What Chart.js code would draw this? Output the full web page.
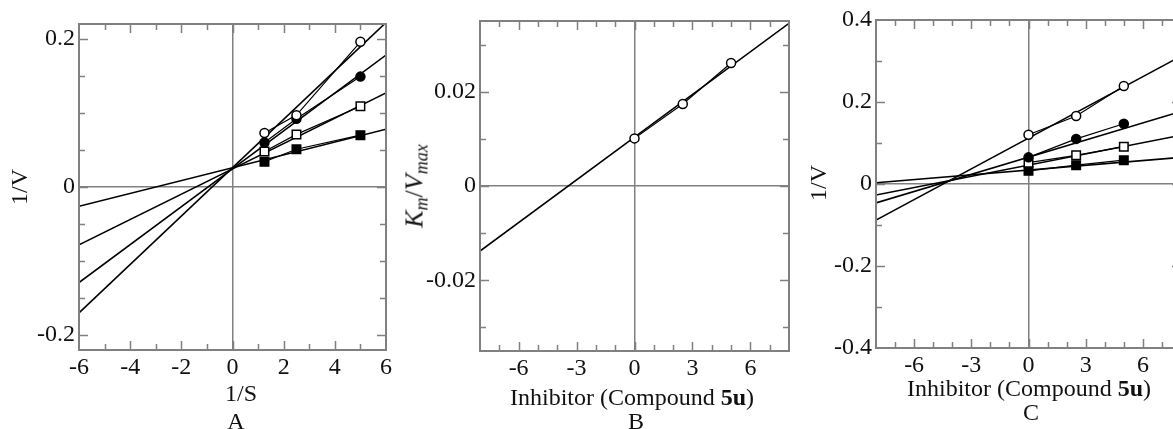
<!DOCTYPE html>
<html lang="en">
<head>
  <meta charset="UTF-8">
  <title>Lineweaver-Burk and secondary plots</title>
  <script src="https://cdn.jsdelivr.net/npm/chart.js"></script>
  <style>
    * { margin: 0; padding: 0; }
    html, body { width: 1173px; height: 429px; overflow: hidden; background: #fff; }
    body { position: relative; font-family: "Liberation Serif", "Times New Roman", serif; color: #111; }
    .panel { position: absolute; top: 0; height: 429px; }
    .lbl { position: absolute; font-size: 24px; line-height: 1; white-space: nowrap; transform: translate(-50%, -50%); }
    .rot { transform: translate(-50%, -50%) rotate(-90deg); }
    .big { font-size: 26px; }
    sub { font-size: 18px; vertical-align: -5px; }
  </style>
</head>
<body>
  <div class="panel" style="left:0;width:400px"><canvas id="chartA"></canvas></div>
  <div class="panel" style="left:400px;width:400px"><canvas id="chartB"></canvas></div>
  <div class="panel" style="left:780px;width:420px"><canvas id="chartC"></canvas></div>

  <div class="lbl rot" style="left:19px;top:187px">1/V</div>
  <div class="lbl" style="left:241px;top:393px">1/S</div>
  <div class="lbl" style="left:236px;top:421px">A</div>

  <div class="lbl rot big" style="left:416px;top:186px"><i>K<sub>m</sub></i>/<i>V<sub>max</sub></i></div>
  <div class="lbl" style="left:632px;top:397px">Inhibitor (Compound <b>5u</b>)</div>
  <div class="lbl" style="left:636px;top:421px">B</div>

  <div class="lbl rot" style="left:818px;top:183px">1/V</div>
  <div class="lbl" style="left:1029px;top:388px">Inhibitor (Compound <b>5u</b>)</div>
  <div class="lbl" style="left:1031px;top:412px">C</div>

  <script>
    // Panel A: 1/V vs 1/S
    var xA = [1.25, 2.5, 5];
    var aOpenCircle = [0.073, 0.097, 0.196];
    var aFilledCircle = [0.060, 0.092, 0.149];
    var aOpenSquare = [0.048, 0.071, 0.109];
    var aFilledSquare = [0.034, 0.051, 0.070];
    var aFitX = [-6, 6];
    var aFitOpenCircle = [-0.170, 0.222];
    var aFitFilledCircle = [-0.129, 0.178];
    var aFitOpenSquare = [-0.078, 0.127];
    var aFitFilledSquare = [-0.026, 0.078];
    var aXTicks = [-6, -5, -4, -3, -2, -1, 0, 1, 2, 3, 4, 5, 6];
    var aXLabels = [-6, -4, -2, 0, 2, 4, 6];
    var aYTicks = [-0.2, -0.15, -0.1, -0.05, 0, 0.05, 0.1, 0.15, 0.2];
    var aYLabels = [-0.2, 0, 0.2];

    // Panel B: Km/Vmax vs inhibitor
    var xB = [0, 2.5, 5];
    var bSlope = [0.0101, 0.0174, 0.0261];
    var bFitX = [-8, 8];
    var bFit = [-0.0138, 0.0345];
    var bXTicks = [-7, -6, -5, -4, -3, -2, -1, 0, 1, 2, 3, 4, 5, 6, 7];
    var bXLabels = [-6, -3, 0, 3, 6];
    var bYTicks = [-0.03, -0.02, -0.01, 0, 0.01, 0.02, 0.03];
    var bYLabels = [-0.02, 0, 0.02];

    // Panel C: 1/V vs inhibitor
    var xC = [0, 2.5, 5];
    var cOpenCircle = [0.120, 0.166, 0.239];
    var cFilledCircle = [0.065, 0.110, 0.147];
    var cOpenSquare = [0.052, 0.070, 0.091];
    var cFilledSquare = [0.032, 0.046, 0.058];
    var cFitX = [-8, 8];
    var cFitOpenCircle = [-0.088, 0.312];
    var cFitFilledCircle = [-0.046, 0.177];
    var cFitOpenSquare = [-0.027, 0.119];
    var cFitFilledSquare = [0.003, 0.065];
    var cXTicks = [-7, -6, -5, -4, -3, -2, -1, 0, 1, 2, 3, 4, 5, 6, 7];
    var cXLabels = [-6, -3, 0, 3, 6];
    var cYTicks = [-0.3, -0.2, -0.1, 0, 0.1, 0.2, 0.3];
    var cYLabels = [-0.4, -0.2, 0, 0.2, 0.4];

    var GRAY = '#808080';
    var tickFont = { family: '"Liberation Serif", "Times New Roman", serif', size: 24 };

    function inList(v, list) {
      return list.some(function(l) { return Math.abs(l - v) < 1e-9; });
    }

    // frame round the plot area with inward ticks on all four sides
    var frameTicks = {
      id: 'frameTicks',
      afterDatasetsDraw: function(chart) {
        var ctx = chart.ctx, a = chart.chartArea;
        var x = chart.scales.x, y = chart.scales.y;
        var o = chart.options.plugins.frameTicks;
        ctx.save();
        ctx.strokeStyle = GRAY;
        ctx.lineWidth = 1.5;
        ctx.beginPath();
        x.ticks.forEach(function(t) {
          if (t.value <= x.min || t.value >= x.max) return;
          var px = Math.round(x.getPixelForValue(t.value)) + 0.5;
          var len = inList(t.value, o.xLabels) ? 9 : 6;
          ctx.moveTo(px, a.bottom); ctx.lineTo(px, a.bottom - len);
          ctx.moveTo(px, a.top); ctx.lineTo(px, a.top + len);
        });
        y.ticks.forEach(function(t) {
          if (t.value <= y.min || t.value >= y.max) return;
          var py = Math.round(y.getPixelForValue(t.value)) + 0.5;
          var len = inList(t.value, o.yLabels) ? 9 : 6;
          ctx.moveTo(a.left, py); ctx.lineTo(a.left + len, py);
          ctx.moveTo(a.right, py); ctx.lineTo(a.right - len, py);
        });
        ctx.stroke();
        ctx.lineWidth = 2;
        ctx.strokeRect(a.left, a.top, a.right - a.left, a.bottom - a.top);
        ctx.restore();
      }
    };

    function pts(xs, ys) {
      return xs.map(function(x, i) { return { x: x, y: ys[i] }; });
    }

    function pointSet(xs, ys, style, filled) {
      return {
        data: pts(xs, ys),
        showLine: true,
        borderColor: '#000',
        borderWidth: 1.2,
        pointStyle: style,
        pointRadius: style === 'rect' ? 6 : 4.5,
        pointBackgroundColor: filled ? '#000' : '#fff',
        pointBorderColor: '#000',
        pointBorderWidth: 1.5,
        order: 1
      };
    }

    function fitSet(xs, ys) {
      return {
        data: pts(xs, ys),
        showLine: true,
        borderColor: '#000',
        borderWidth: 1.6,
        pointRadius: 0,
        order: 2
      };
    }

    function zeroLine(c) {
      return c.tick && Math.abs(c.tick.value) < 1e-9 ? GRAY : 'rgba(0,0,0,0)';
    }

    function setTicks(values) {
      return function(s) {
        s.ticks = values.map(function(v) { return { value: v }; });
      };
    }

    function makeChart(id, datasets, o) {
      return new Chart(document.getElementById(id), {
        type: 'scatter',
        data: { datasets: datasets },
        options: {
          responsive: true,
          maintainAspectRatio: false,
          animation: false,
          events: [],
          layout: { padding: { top: o.top, right: o.right, left: 0, bottom: 0 } },
          plugins: {
            legend: { display: false },
            tooltip: { enabled: false },
            frameTicks: { xLabels: o.xLabels, yLabels: o.yLabels }
          },
          scales: {
            x: {
              type: 'linear',
              min: o.xMin, max: o.xMax,
              afterBuildTicks: setTicks(o.xTicks.concat(o.xLabels.filter(function(v) { return !inList(v, o.xTicks); }))),
              ticks: {
                autoSkip: false, maxRotation: 0,
                padding: 3, color: '#111', font: tickFont,
                callback: function(v) { return inList(v, o.xLabels) ? String(v) : ''; }
              },
              grid: { drawTicks: false, color: zeroLine, lineWidth: 1.5 },
              border: { display: false },
              afterFit: function(s) { s.height = o.xH; }
            },
            y: {
              type: 'linear',
              min: o.yMin, max: o.yMax,
              afterBuildTicks: setTicks(o.yTicks.concat(o.yLabels.filter(function(v) { return !inList(v, o.yTicks); }))),
              ticks: {
                autoSkip: false,
                padding: 4, color: '#111', font: tickFont,
                callback: function(v) { return inList(v, o.yLabels) ? String(v) : ''; }
              },
              grid: { drawTicks: false, color: zeroLine, lineWidth: 1.5 },
              border: { display: false },
              afterFit: function(s) { s.width = o.yW; }
            }
          }
        },
        plugins: [frameTicks]
      });
    }

    makeChart('chartA', [
      fitSet(aFitX, aFitOpenCircle),
      fitSet(aFitX, aFitFilledCircle),
      fitSet(aFitX, aFitOpenSquare),
      fitSet(aFitX, aFitFilledSquare),
      pointSet(xA, aOpenCircle, 'circle', false),
      pointSet(xA, aFilledCircle, 'circle', true),
      pointSet(xA, aOpenSquare, 'rect', false),
      pointSet(xA, aFilledSquare, 'rect', true)
    ], { xMin: -6, xMax: 6, xTicks: aXTicks, xLabels: aXLabels,
         yMin: -0.22, yMax: 0.22, yTicks: aYTicks, yLabels: aYLabels,
         yW: 79, xH: 79, top: 24, right: 14 });

    makeChart('chartB', [
      fitSet(bFitX, bFit),
      pointSet(xB, bSlope, 'circle', false)
    ], { xMin: -8, xMax: 8, xTicks: bXTicks, xLabels: bXLabels,
         yMin: -0.035, yMax: 0.035, yTicks: bYTicks, yLabels: bYLabels,
         yW: 80, xH: 78, top: 21, right: 11 });

    makeChart('chartC', [
      fitSet(cFitX, cFitOpenCircle),
      fitSet(cFitX, cFitFilledCircle),
      fitSet(cFitX, cFitOpenSquare),
      fitSet(cFitX, cFitFilledSquare),
      pointSet(xC, cOpenCircle, 'circle', false),
      pointSet(xC, cFilledCircle, 'circle', true),
      pointSet(xC, cOpenSquare, 'rect', false),
      pointSet(xC, cFilledSquare, 'rect', true)
    ], { xMin: -8, xMax: 8, xTicks: cXTicks, xLabels: cXLabels,
         yMin: -0.4, yMax: 0.4, yTicks: cYTicks, yLabels: cYLabels,
         yW: 96, xH: 81, top: 20, right: 19 });
  </script>
</body>
</html>
